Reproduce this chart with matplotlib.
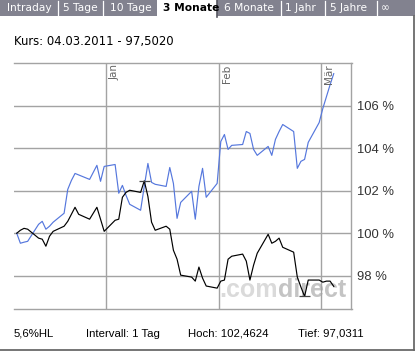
import pandas as pd
import matplotlib.pyplot as plt
import matplotlib.dates as mdates
from matplotlib.patches import Rectangle

# ── DATEN ─────────────────────────────────────────────────────────────────────

# Handelstage 07.12.2010 - 04.03.2011 (Werte zur Tagesmitte gezeichnet)
DATUM = pd.bdate_range('2010-12-07', '2011-03-04') + pd.Timedelta(hours=12)

KURS = [
    100.00, 100.14, 100.23, 100.19, 99.77, 99.72, 99.39, 99.86, 100.09, 100.33,
    100.56, 100.89, 101.22, 100.89, 100.66, 100.94, 101.22, 100.66, 100.09,
    100.61, 100.66, 101.69, 101.92, 102.02, 101.92, 102.4624, 101.73, 100.52, 100.14,
    100.33, 100.19, 99.20, 98.78, 98.03, 97.94, 97.75, 98.41, 97.89, 97.52, 97.42,
    97.75, 97.80, 98.78, 98.92, 99.02, 98.69, 97.80, 98.50, 99.06, 99.95,
    99.53, 99.62, 99.77, 99.34, 99.11, 97.94, 97.47, 97.0311, 97.80, 97.80,
    97.70, 97.75, 97.75, 97.502,
]

INDEX = [
    100.00, 99.53, 99.58, 99.62, 100.42, 100.56, 100.19, 100.33, 100.52, 100.94,
    102.06, 102.48, 102.81, 102.74, 102.53, 102.86, 103.19, 102.44, 103.14,
    103.23, 101.88, 102.25, 101.78, 101.36, 101.08, 102.20, 103.28, 102.39, 102.30,
    102.20, 103.09, 102.34, 100.70, 101.45, 101.97, 100.66, 102.20, 103.05, 101.69, 102.34,
    104.31, 104.64, 103.94, 104.13, 104.17, 104.78, 104.69, 103.94, 103.66, 104.08,
    103.66, 104.41, 104.78, 105.11, 104.78, 103.05, 103.38, 103.47, 104.27, 105.20,
    105.86, 106.42, 106.98, 107.50,
]

Y_TICKS = [98, 100, 102, 104, 106]
MONATE = [('2011-01-01', 'Jan'), ('2011-02-01', 'Feb'), ('2011-03-01', 'Mär')]
TABS = ['Intraday', '5 Tage', '10 Tage', '3 Monate', '6 Monate', '1 Jahr', '5 Jahre', '∞']
AKTIV = '3 Monate'
FUSS = ['5,6%HL', 'Intervall: 1 Tag', 'Hoch: 102,4624', 'Tief: 97,0311']

GRID = '#a3a3a3'
BLAU = '#5577dd'

# ── FIGUR ─────────────────────────────────────────────────────────────────────

fig = plt.figure(figsize=(4.18, 3.57), dpi=100)

bg = fig.add_axes([0, 0, 1, 1])
bg.set_xlim(0, 418)
bg.set_ylim(357, 0)
bg.axis('off')

# Reiterleiste
bg.add_patch(Rectangle((0, 0), 415, 16, color='#82828f', lw=0))
tab_x = [7, 63, 110, 163, 224, 285, 330, 381]
trenner = [58, 103, 281, 325, 377]
bg.add_patch(Rectangle((157, 0), 60, 17, color='white', lw=0))
bg.plot([217, 217], [0, 17], color='#55555f', lw=1.2)
for x in trenner:
    bg.plot([x, x], [1, 15], color='white', lw=0.9)
for x, t in zip(tab_x, TABS):
    aktiv = t == AKTIV
    bg.text(x, 8, t, fontsize=7.7, va='center', ha='left',
            color='black' if aktiv else 'white',
            fontweight='bold' if aktiv else 'normal')

# Rahmen rechts / unten
bg.plot([414, 414], [16, 349.5], color='#6a6a6a', lw=1.3)
bg.plot([0, 414], [349.5, 349.5], color='#6a6a6a', lw=1.3)

bg.text(14, 41, 'Kurs: 04.03.2011 - 97,5020', fontsize=8.4, va='center', ha='left')

# Wasserzeichen
bg.text(219, 297, '.com', fontsize=18, fontweight='bold', color='#dadada',
        family='Liberation Sans', ha='left', va='baseline')
bg.text(346, 297, 'direct', fontsize=18, fontweight='bold', color='#c4c4c4',
        family='Liberation Sans', ha='right', va='baseline')

for x, t in zip([14, 86, 188, 298], FUSS):
    bg.text(x, 334, t, fontsize=8.2, family='Liberation Sans', va='center', ha='left')

# ── CHART ─────────────────────────────────────────────────────────────────────

ax = fig.add_axes([14 / 418, 1 - 309 / 357, (351.5 - 14) / 418, (309 - 63) / 357])
ax.patch.set_visible(False)

ax.plot(DATUM, INDEX, color=BLAU, lw=0.85, zorder=3)
ax.plot(DATUM, KURS, color='black', lw=0.85, zorder=4)

# Hoch / Tief Markierung
i_hoch = KURS.index(max(KURS))
i_tief = KURS.index(min(KURS))
for i in [i_hoch, i_tief]:
    ax.hlines(KURS[i], DATUM[i] - pd.Timedelta(days=1.5), DATUM[i] + pd.Timedelta(days=1.5),
              color='#444444', lw=0.9, zorder=5)

for d, name in MONATE:
    ax.axvline(pd.Timestamp(d), color=GRID, lw=1.0, zorder=1)
    ax.annotate(name, xy=(mdates.date2num(pd.Timestamp(d)), 1), xycoords=('data', 'axes fraction'),
                xytext=(2.5, -1), textcoords='offset points', rotation=90,
                ha='left', va='top', fontsize=7.5, color='#666666')

ax.set_xlim(pd.Timestamp('2010-12-06 18:00'), pd.Timestamp('2011-03-09 09:00'))
ax.set_ylim(96.44, 108)
ax.set_xticks([])

ax.yaxis.tick_right()
ax.set_yticks(Y_TICKS)
ax.set_yticklabels([f'{v} %' for v in Y_TICKS], fontsize=9.4, family='Liberation Sans', color='#333333')
ax.tick_params(axis='y', length=0, pad=4)
ax.grid(axis='y', color=GRID, lw=1.0, zorder=1)

ax.spines['left'].set_visible(False)
for s in ['top', 'bottom', 'right']:
    ax.spines[s].set_color(GRID)
    ax.spines[s].set_linewidth(1.0)

fig.savefig('out.png', dpi=100)
